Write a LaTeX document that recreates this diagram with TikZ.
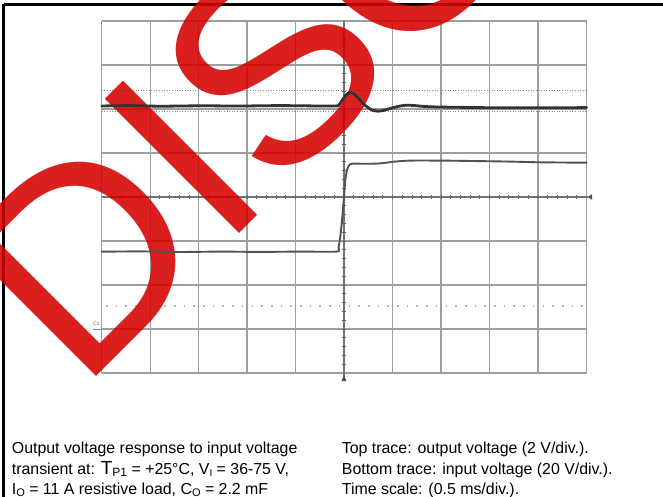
\documentclass[tikz,border=0pt]{standalone}
\usepackage{fontspec}
\setmainfont{Liberation Sans}
\definecolor{wmred}{RGB}{214,0,0}
\begin{document}
\begin{tikzpicture}[x=1pt,y=-1pt,
  gridline/.style={draw=black!38, line width=1.3pt},
  axisline/.style={draw=black!55, line width=1.3pt},
  tickmark/.style={draw=black!60, line width=0.9pt},
  cursorline/.style={draw=black!45, line width=1.1pt, dash pattern=on 1pt off 1.6pt},
  refdots/.style={draw=black!28, line width=1.6pt, dash pattern=on 1.6pt off 8.1pt},
  frameline/.style={draw=black, line width=2.6pt},
  traceout/.style={draw=black!80, line width=2.8pt, line join=round, line cap=round},
  tracein/.style={draw=black!68, line width=1.9pt, line join=round, line cap=round},
  marker/.style={fill=black!70},
  caption/.style={anchor=base west, inner sep=0pt, font=\fontsize{15.9}{20}\selectfont},
  watermark/.style={rotate=45, anchor=base west, inner sep=0pt, outer sep=0pt, text=wmred, text opacity=0.88, font=\fontsize{276}{276}\selectfont}
]
\useasboundingbox (0,0) rectangle (663,497);
\fill[white] (0,0) rectangle (663,497);
% frame (top and left edges visible)
\draw[frameline] (3.5,4.5) -- (663,4.5);
\draw[frameline] (3.5,4.5) -- (3.5,497);
% grid
\foreach \i in {0,1,2,3,4,6,7,8,9,10}
  \draw[gridline] ({101.7+\i*48.48},21) -- ({101.7+\i*48.48},373);
\foreach \j in {0,1,2,3,5,6,7,8}
  \draw[gridline] (101.7,{21+\j*44}) -- (586.5,{21+\j*44});
% centre axes with ticks
\draw[axisline] (343.9,21) -- (343.9,380);
\draw[axisline] (101.7,197) -- (588,197);
\foreach \k in {1,...,49}
  \draw[tickmark] ({101.7+\k*9.696},195) -- ++(0,4);
\foreach \k in {1,...,39}
  \draw[tickmark] (341.9,{21+\k*8.8}) -- ++(4,0);
% cursor / reference lines
\draw[cursorline] (101.7,90.5) -- (586.5,90.5);
\draw[cursorline] (101.7,111.5) -- (586.5,111.5);
\draw[refdots] (106,306) -- (586.5,306);
% markers
\fill[marker] (343.9,376) -- (341.4,381) -- (346.4,381) -- cycle;
\fill[marker] (587.5,197) -- (592,194.3) -- (592,199.7) -- cycle;
\node[inner sep=0pt, text=black!60, font=\fontsize{5}{5}\selectfont] (cone) at (96.5,323.5) {C1};
\draw[black!50, line width=0.8pt] (92.5,329.3) -- (101.7,329.3);
\draw[black!35, line width=0.8pt] (93,371.5) -- (100,371.5);
% watermark
\node[watermark] (wm) at (80.5,392.5) {DIS\kern-12pt CONTINUED};
% top trace: output voltage
\draw[traceout] plot[smooth, tension=0.55] coordinates {
 (101.7,106) (130,105.6) (160,106.2) (200,105.8) (240,106) (280,105.6) (320,106) (336,106)
 (339,104.8) (342,100.5) (346,95) (350,92.4) (354,94) (358,98) (363,103.3) (368,107.6)
 (373,110.4) (378,111.2) (384,110.3) (390,108.6) (398,106.4) (406,105.3) (414,105.5)
 (422,106.3) (432,106.8) (450,107.2) (490,107.7) (540,107.8) (586.5,107.6)};
% bottom trace: input voltage
\draw[tracein] plot[smooth, tension=0.45] coordinates {
 (101.7,251.7) (140,251.4) (180,252) (220,251.6) (260,251.9) (300,251.6) (336.5,251.6)
 (338.5,248) (340.5,235) (342.5,215) (344,197) (345.3,180) (347,170) (349.5,164.8)
 (353,163.6) (365,163.8) (380,163.4) (395,161.6) (410,160.6) (440,160.6) (473,161)
 (510,161.6) (540,162.3) (586.5,162.7)};
% caption
\node[caption] (l1) at (11.7,453.3) {Output voltage response to input voltage};
\node[caption] (l2) at (11.7,474) {transient at: {\fontsize{19}{20}\selectfont T}\raisebox{-2pt}{\fontsize{12}{12}\selectfont P1} = +25°C, V\raisebox{-2.5pt}{\fontsize{10}{10}\selectfont I} = 36-75 V,};
\node[caption] (l3) at (11.7,494.3) {I\raisebox{-2.5pt}{\fontsize{11}{11}\selectfont O} = 11 A resistive load, C\raisebox{-2.5pt}{\fontsize{11}{11}\selectfont O} = 2.2 mF};
\node[caption] (r1) at (341.7,453.3) {Top trace: output voltage (2 V/div.).};
\node[caption] (r2) at (341.7,474) {Bottom trace: input voltage (20 V/div.).};
\node[caption] (r3) at (341.7,494.3) {Time scale: (0.5 ms/div.).};
\end{tikzpicture}
\end{document}
